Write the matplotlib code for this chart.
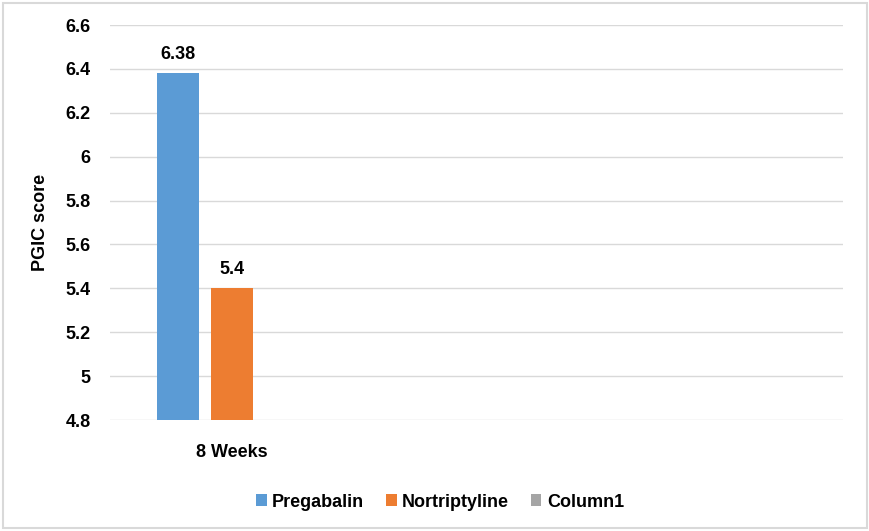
import matplotlib.pyplot as plt
import numpy as np
from matplotlib.patches import Rectangle

plt.rcParams['font.family'] = ['Liberation Sans', 'DejaVu Sans']
plt.rcParams['font.weight'] = 'bold'

categories = ['8 Weeks', '', '']
pregabalin = [6.38, np.nan, np.nan]
nortriptyline = [5.4, np.nan, np.nan]
column1 = [np.nan, np.nan, np.nan]
series_names = ['Pregabalin', 'Nortriptyline', 'Column1']
colors = ['#5B9BD5', '#ED7D31', '#A5A5A5']

fig = plt.figure(figsize=(8.7, 5.31), dpi=100)
ax = fig.add_axes([0.1264, 0.209, 0.8426, 0.7439])

x = np.arange(len(categories))
width = 0.172
step = 0.221
base = 4.8
fs = 13
for i, (vals, name, c) in enumerate(zip([pregabalin, nortriptyline, column1], series_names, colors)):
    v = np.array(vals, dtype=float)
    h = np.where(np.isnan(v), 0, v - base)
    ax.bar(x + (i - 1) * step, h, width, bottom=base, color=c, label=name, zorder=3)
    for xi, val in zip(x, v):
        if not np.isnan(val):
            ax.text(xi + (i - 1) * step, val + 0.045, f'{val:g}', ha='center', va='bottom',
                    fontsize=fs, fontweight='bold')

ax.set_xlim(-0.5, len(categories) - 0.5)
ax.set_ylim(4.8, 6.6)
ticks = np.round(np.arange(4.8, 6.61, 0.2), 1)
ax.set_yticks(ticks)
ax.set_yticklabels([f'{t:g}' for t in ticks])
ax.set_xticks(x)
ax.set_xticklabels(categories)
ax.tick_params(axis='both', length=0, labelsize=fs)
ax.tick_params(axis='y', pad=14)
ax.tick_params(axis='x', pad=17)
for s in ax.spines.values():
    s.set_visible(False)
ax.grid(axis='y', color='#D9D9D9', linewidth=1, zorder=0)
ax.set_ylabel('PGIC score', fontsize=fs, fontweight='bold', labelpad=12)

ax.legend(loc='upper center', bbox_to_anchor=(0.45, -0.145), ncol=3, frameon=False,
          fontsize=fs, handlelength=0.6, handleheight=0.6, handletextpad=0.3, columnspacing=1.2)

fig.patches.append(Rectangle((0.004, 0.006), 0.992, 0.988, transform=fig.transFigure,
                             fill=False, edgecolor='#D9D9D9', linewidth=1.5))

fig.savefig('out.png', dpi=100)
